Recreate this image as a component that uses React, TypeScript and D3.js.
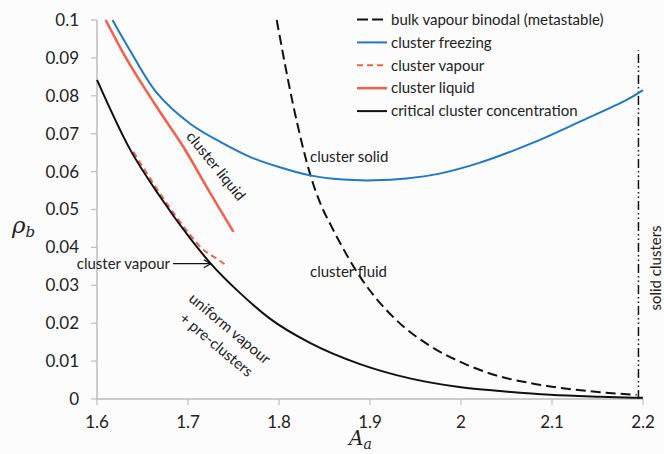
import * as d3 from "d3";

const W = 664;
const H = 454;

const xTicks = [1.6, 1.7, 1.8, 1.9, 2, 2.1, 2.2];
const xTickLabels = ["1.6", "1.7", "1.8", "1.9", "2", "2.1", "2.2"];
const yTicks = [0, 0.01, 0.02, 0.03, 0.04, 0.05, 0.06, 0.07, 0.08, 0.09, 0.1];
const yTickLabels = ["0", "0.01", "0.02", "0.03", "0.04", "0.05", "0.06", "0.07", "0.08", "0.09", "0.1"];

// cluster freezing (blue)
const freezeA = [1.617, 1.636, 1.666, 1.702, 1.738, 1.768, 1.8, 1.834, 1.87, 1.905, 1.94, 1.975, 2.02, 2.076, 2.13, 2.182, 2.2];
const freezeRho = [0.1, 0.0921, 0.0807, 0.0727, 0.0675, 0.0639, 0.0612, 0.059, 0.0579, 0.0577, 0.0582, 0.0594, 0.0623, 0.0673, 0.0731, 0.0789, 0.0815];

// cluster liquid (red solid)
const liquidA = [1.6095, 1.629, 1.6655, 1.697, 1.723, 1.75];
const liquidRho = [0.1, 0.0912, 0.0771, 0.0657, 0.0549, 0.0441];

// cluster vapour (red dashed)
const vapourA = [1.64, 1.669, 1.702, 1.715, 1.729, 1.744];
const vapourRho = [0.0652, 0.0543, 0.0434, 0.0398, 0.0374, 0.035];

// critical cluster concentration (black solid)
const criticalA = [1.6, 1.636, 1.669, 1.702, 1.724, 1.757, 1.79, 1.834, 1.889, 1.929, 2.0, 2.043, 2.098, 2.153, 2.2];
const criticalRho = [0.0842, 0.066, 0.0535, 0.0425, 0.036, 0.028, 0.0212, 0.0148, 0.0092, 0.0063, 0.0031, 0.0021, 0.0011, 0.0006, 0.0003];

// bulk vapour binodal (black dashed)
const binodalA = [1.7975, 1.816, 1.834, 1.847, 1.856, 1.889, 1.929, 1.966, 2.003, 2.039, 2.076, 2.098, 2.153, 2.193];
const binodalRho = [0.1, 0.0771, 0.0595, 0.0507, 0.0463, 0.0323, 0.0208, 0.014, 0.0094, 0.0062, 0.0042, 0.0033, 0.0018, 0.0011];

// solid clusters limit (dash-dot)
const limitA = [2.195, 2.195];
const limitRho = [0, 0.092];

const arrowTip = [1.725, 0.0357];

const BLUE = "#1f78c6";
const RED = "#f2604a";
const AXIS = "#bdbdbd";
const TEXT = "#222";
const FONT = "Lato, 'Open Sans', sans-serif";

const legend = [
  { label: "bulk vapour binodal (metastable)", color: "#111", dash: "11,4", width: 2 },
  { label: "cluster freezing", color: BLUE, dash: null, width: 2 },
  { label: "cluster vapour", color: RED, dash: "6,4", width: 2 },
  { label: "cluster liquid", color: RED, dash: null, width: 2.5 },
  { label: "critical cluster concentration", color: "#111", dash: null, width: 2 },
];

export default function App() {
  const x = d3.scaleLinear().domain([1.6, 2.2]).range([97, 643]);
  const y = d3.scaleLinear().domain([0, 0.1]).range([399, 20]);

  const path = (as: number[], rs: number[], curve: d3.CurveFactory = d3.curveMonotoneX) =>
    d3
      .line<number>()
      .x((_, i) => x(as[i]))
      .y((_, i) => y(rs[i]))
      .curve(curve)(as.map((_, i) => i)) ?? "";

  const tipX = x(arrowTip[0]);
  const tipY = y(arrowTip[1]);

  return (
    <svg
      width={W}
      height={H}
      style={{ position: "absolute", left: 0, top: 0, background: "#fcfcfd" }}
      fontFamily={FONT}
    >
      {/* axes */}
      <line x1={x(1.6)} x2={x(2.2)} y1={y(0)} y2={y(0)} stroke={AXIS} strokeWidth={1.5} />
      <line x1={x(1.6)} x2={x(1.6)} y1={y(0)} y2={y(0.1)} stroke={AXIS} strokeWidth={1.5} />
      {yTicks.map((t, i) => (
        <g key={"y" + i}>
          <line x1={x(1.6) - 6} x2={x(1.6)} y1={y(t)} y2={y(t)} stroke={AXIS} strokeWidth={1.2} />
          <text x={79} y={y(t)} dy="0.35em" textAnchor="end" fontSize={17} fill={TEXT}>
            {yTickLabels[i]}
          </text>
        </g>
      ))}
      {xTicks.map((t, i) => (
        <g key={"x" + i}>
          <line x1={x(t)} x2={x(t)} y1={y(0)} y2={y(0) + 6} stroke={AXIS} strokeWidth={1.2} />
          <text x={x(t)} y={428} textAnchor="middle" fontSize={17} fill={TEXT}>
            {xTickLabels[i]}
          </text>
        </g>
      ))}

      {/* axis titles */}
      <text x={12} y={233} fontFamily="'DejaVu Serif', serif" fontStyle="italic" fontSize={23} fill={TEXT}>
        ρ
        <tspan fontSize={15} dy={4}>b</tspan>
      </text>
      <text x={349} y={445} fontFamily="'DejaVu Serif', serif" fontStyle="italic" fontSize={20} fill={TEXT}>
        A
        <tspan fontSize={14} dy={4}>a</tspan>
      </text>

      {/* curves */}
      <path d={path(limitA, limitRho, d3.curveLinear)} fill="none" stroke="#111" strokeWidth={1.5} strokeDasharray="9,3,1.5,3,1.5,3" />
      <path d={path(binodalA, binodalRho)} fill="none" stroke="#111" strokeWidth={2} strokeDasharray="10,5" />
      <path d={path(freezeA, freezeRho, d3.curveCatmullRom)} fill="none" stroke={BLUE} strokeWidth={2} />
      <path d={path(vapourA, vapourRho)} fill="none" stroke={RED} strokeWidth={2} strokeDasharray="6,4" />
      <path d={path(liquidA, liquidRho)} fill="none" stroke={RED} strokeWidth={2.5} />
      <path d={path(criticalA, criticalRho)} fill="none" stroke="#111" strokeWidth={2} />

      {/* annotations */}
      <text x={310} y={157} dy="0.35em" fontSize={15} fill={TEXT}>cluster solid</text>
      <text x={310} y={272} dy="0.35em" fontSize={15} fill={TEXT}>cluster fluid</text>
      <text transform="translate(216,166) rotate(51)" textAnchor="middle" dy="0.35em" fontSize={15} fill={TEXT}>
        cluster liquid
      </text>
      <g transform="translate(222,338) rotate(40)">
        <text y={-7} textAnchor="middle" fontSize={15} fill={TEXT}>uniform vapour</text>
        <text y={14} textAnchor="middle" fontSize={15} fill={TEXT}>+ pre-clusters</text>
      </g>
      <text transform="translate(661,268) rotate(-90)" textAnchor="middle" fontSize={15} fill={TEXT}>
        solid clusters
      </text>
      <text x={170} y={tipY} dy="0.35em" textAnchor="end" fontSize={15} fill={TEXT}>cluster vapour</text>
      <line x1={173} x2={tipX} y1={tipY} y2={tipY} stroke="#111" strokeWidth={1.3} />
      <path
        d={`M${tipX - 7},${tipY - 4} L${tipX},${tipY} L${tipX - 7},${tipY + 4}`}
        fill="none"
        stroke="#111"
        strokeWidth={1.3}
      />

      {/* legend */}
      {legend.map((l, i) => {
        const cy = 19.5 + i * 22.9;
        return (
          <g key={l.label}>
            <line
              x1={357}
              x2={387}
              y1={cy}
              y2={cy}
              stroke={l.color}
              strokeWidth={l.width}
              strokeDasharray={l.dash ?? undefined}
            />
            <text x={391} y={cy} dy="0.35em" fontSize={15} fill={TEXT}>
              {l.label}
            </text>
          </g>
        );
      })}
    </svg>
  );
}
